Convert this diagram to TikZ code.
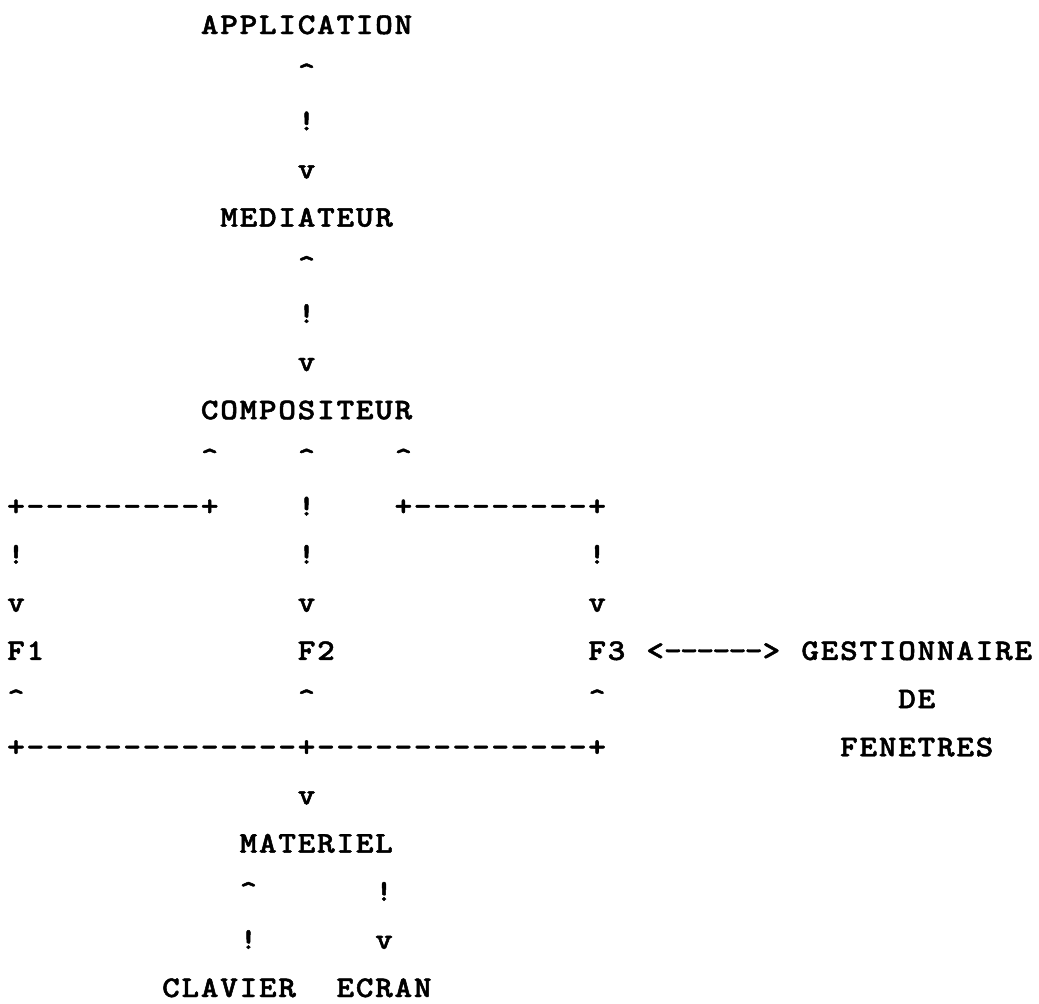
\documentclass[tikz,border=0pt]{standalone}
\usepackage{graphicx}
\usepackage{fontspec}
% heavy typewriter face
\newfontfamily\twfont[FakeBold=1.5]{lmmonolt10-bold.otf}

% Typewriter grid: every character sits in a cell of fixed pitch
\newlength\cellw
\newlength\pitch
\setlength\pitch{19.37pt}
\makeatletter
\newcommand\cellsw[2]{\setlength\cellw{#1}\cells@loop#2\relax}
\newcommand\cells[1]{\cellsw{\pitch}{#1}}
\def\cells@loop#1{\ifx#1\relax\else
  \makebox[\cellw][c]{\scalebox{1.12}[1]{#1}}\expandafter\cells@loop\fi}
\makeatother
\newcommand\up{\textasciicircum}

\tikzset{
  tw/.style={anchor=base west, inner sep=0pt, outer sep=0pt,
    font=\fontsize{30}{36}\selectfont\twfont},
}
% \tw{name}{column}{line}{characters}
\newcommand\tw[4]{\node[tw] (#1) at ({6.315+19.37*(#2)},{34+48.15*(#3)}) {\cells{#4}};}

\begin{document}
\begin{tikzpicture}[x=1pt,y=-1pt]
\fill[white] (0,0) rectangle (1039,1004);
\useasboundingbox (0,0) rectangle (1039,1004);

% application <-> mediator
\tw{app}{10}{0}{APPLICATION}
\tw{a1}{15}{1}{\up}
\tw{a2}{15}{2}{!}
\tw{a3}{15}{3}{v}
\tw{med}{11}{4}{MEDIATEUR}
% mediator <-> compositor
\tw{m1}{15}{5}{\up}
\tw{m2}{15}{6}{!}
\tw{m3}{15}{7}{v}
\tw{comp}{10}{8}{COMPOSITEUR}

% compositor fan-out to the three windows
\tw{c1l}{10}{9}{\up}
\tw{c1m}{15}{9}{\up}
\tw{c1r}{20}{9}{\up}
\tw{c2l}{0}{10}{+---------+}
\tw{c2m}{15}{10}{!}
\tw{c2r}{20}{10}{+---------+}
\tw{c3l}{0}{11}{!}
\tw{c3m}{15}{11}{!}
\tw{c3r}{30}{11}{!}
\tw{c4l}{0}{12}{v}
\tw{c4m}{15}{12}{v}
\tw{c4r}{30}{12}{v}

% windows
\tw{f1}{0}{13}{F1}
\tw{f2}{15}{13}{F2}
\tw{f3}{30}{13}{F3}
\node[tw] (f3gest) at ({6.315+19.37*33},{34+48.15*13})
  {\cells{<}\cellsw{16.14pt}{------}\cells{>}};

% window manager
\tw{gest}{41}{13}{GESTIONNAIRE}
\tw{gde}{46}{14}{DE}
\tw{gfen}{43}{15}{FENETRES}

% windows gathered onto the hardware bus
\tw{b1l}{0}{14}{\up}
\tw{b1m}{15}{14}{\up}
\tw{b1r}{30}{14}{\up}
\tw{bus}{0}{15}{+--------------+--------------+}
\tw{b2}{15}{16}{v}
\tw{mat}{12}{17}{MATERIEL}

% keyboard and screen
\tw{k1}{12}{18}{\up}
\tw{e1}{19}{18}{!}
\tw{k2}{12}{19}{!}
\tw{e2}{19}{19}{v}
\tw{clav}{8}{20}{CLAVIER}
\tw{ecr}{17}{20}{ECRAN}
\end{tikzpicture}
\end{document}
